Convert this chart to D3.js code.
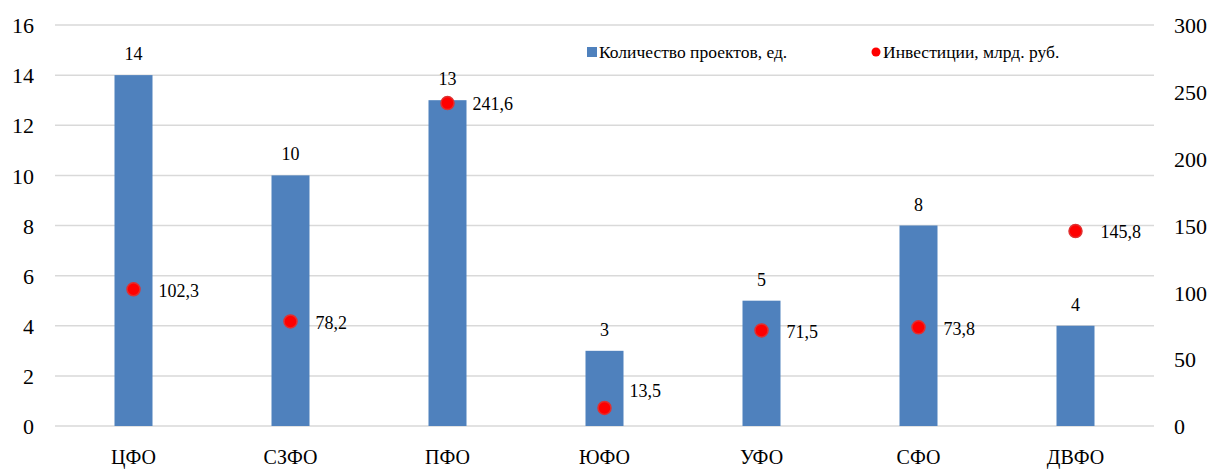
<!DOCTYPE html>
<html>
<head>
<meta charset="UTF-8">
<script src="https://cdn.jsdelivr.net/npm/d3@7/dist/d3.min.js"></script>
</head>
<body style="margin:0">
<script>
// данные
var categories = ["ЦФО", "СЗФО", "ПФО", "ЮФО", "УФО", "СФО", "ДВФО"];
var projects = [14, 10, 13, 3, 5, 8, 4];
var investments = [102.3, 78.2, 241.6, 13.5, 71.5, 73.8, 145.8];
var leftTicks = [0, 2, 4, 6, 8, 10, 12, 14, 16];
var rightTicks = [0, 50, 100, 150, 200, 250, 300];

var width = 1212, height = 469;
var margin = {top: 25, right: 58, bottom: 43, left: 55};
var fontFam = "'Liberation Serif'";

var svg = d3.select("body").append("svg")
  .attr("width", width)
  .attr("height", height);

var x = d3.scaleBand()
  .domain(categories)
  .range([margin.left, width - margin.right]);

var yL = d3.scaleLinear().domain([0, 16]).range([height - margin.bottom, margin.top]);
var yR = d3.scaleLinear().domain([0, 300]).range([height - margin.bottom, margin.top]);

// сетка
svg.append("g").selectAll("line")
  .data(leftTicks).enter().append("line")
  .attr("x1", margin.left).attr("x2", width - margin.right)
  .attr("y1", function(d){ return yL(d); })
  .attr("y2", function(d){ return yL(d); })
  .attr("stroke", "#d9d9d9").attr("stroke-width", 1.5);

// левая ось
var axisL = svg.append("g")
  .attr("transform", "translate(" + (margin.left - 21) + ",0)")
  .call(d3.axisLeft(yL).tickValues(leftTicks).tickSize(0).tickPadding(0));
axisL.select(".domain").remove();
axisL.selectAll("text").attr("font-size", "22px").attr("dy", "0.35em").attr("fill", "#000");

// правая ось
var axisR = svg.append("g")
  .attr("transform", "translate(" + (width - margin.right + 20) + ",0)")
  .call(d3.axisRight(yR).tickValues(rightTicks).tickSize(0).tickPadding(0));
axisR.select(".domain").remove();
axisR.selectAll("text").attr("font-size", "22px").attr("dy", "0.35em").attr("fill", "#000");

// ось категорий
var axisX = svg.append("g")
  .attr("transform", "translate(0," + (height - margin.bottom) + ")")
  .call(d3.axisBottom(x).tickSize(0).tickPadding(24));
axisX.select(".domain").remove();
axisX.selectAll("text").attr("font-size", "20px").attr("fill", "#000");

// столбцы
var barW = 38;
var cx = function(d, i){ return x(categories[i]) + x.bandwidth() / 2; };
svg.append("g").selectAll("rect")
  .data(projects).enter().append("rect")
  .attr("x", function(d, i){ return cx(d, i) - barW / 2; })
  .attr("y", function(d){ return yL(d); })
  .attr("width", barW)
  .attr("height", function(d){ return yL(0) - yL(d); })
  .attr("fill", "#4f81bd");

svg.append("g").selectAll("text")
  .data(projects).enter().append("text")
  .attr("x", cx)
  .attr("y", function(d){ return yL(d) - 15; })
  .attr("text-anchor", "middle")
  .attr("font-size", "18px")
  .text(function(d){ return d; });

// точки
svg.append("g").selectAll("circle")
  .data(investments).enter().append("circle")
  .attr("cx", cx)
  .attr("cy", function(d){ return yR(d); })
  .attr("r", 6.5)
  .attr("fill", "#ff0000")
  .attr("stroke", "#e03030").attr("stroke-width", 1.5);

svg.append("g").selectAll("text")
  .data(investments).enter().append("text")
  .attr("x", function(d, i){ return cx(d, i) + 25; })
  .attr("y", function(d){ return yR(d) + (d < 30 ? -17 : 1); })
  .attr("dy", "0.35em")
  .attr("font-size", "18px")
  .text(function(d){ return d3.format(".1f")(d).replace(".", ","); });

// легенда
var legend = svg.append("g");
legend.append("rect").attr("x", 587).attr("y", 47).attr("width", 10).attr("height", 10).attr("fill", "#4f81bd");
legend.append("text").attr("x", 599).attr("y", 58).attr("font-size", "17.5px").text("Количество проектов, ед.");
legend.append("circle").attr("cx", 876).attr("cy", 52).attr("r", 4.5).attr("fill", "#ff0000");
legend.append("text").attr("x", 883).attr("y", 58).attr("font-size", "17.5px").text("Инвестиции, млрд. руб.");

// шрифт для всех подписей
svg.selectAll("text").style("font-family", fontFam);
</script>
</body>
</html>
